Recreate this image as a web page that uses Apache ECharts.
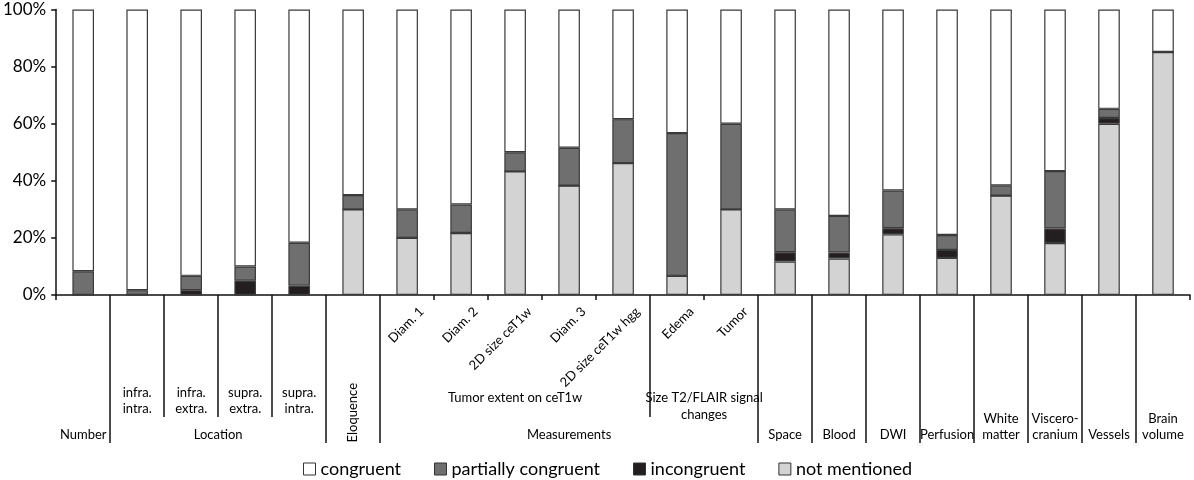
<!DOCTYPE html>
<html>
<head>
<meta charset="utf-8">
<script src="https://cdn.jsdelivr.net/npm/echarts@6/dist/echarts.min.js"></script>
<style>
  html, body { margin: 0; padding: 0; background: #fff; }
  #chart { width: 1194px; height: 480px; }
</style>
</head>
<body>
<div id="chart"></div>
<script>
// categories (lowest level of the x axis)
const categories = ['Number', 'infra. intra.', 'infra. extra.', 'supra. extra.', 'supra. intra.', 'Eloquence',
  'Diam. 1', 'Diam. 2', '2D size ceT1w', 'Diam. 3', '2D size ceT1w hgg', 'Edema', 'Tumor',
  'Space', 'Blood', 'DWI', 'Perfusion', 'White matter', 'Viscero-cranium', 'Vessels', 'Brain volume'];

// label rows under the axis
const rotatedLabels = ['', '', '', '', '', '', 'Diam. 1', 'Diam. 2', '2D size ceT1w', 'Diam. 3', '2D size ceT1w hgg',
  'Edema', 'Tumor', '', '', '', '', '', '', '', ''];
const subLabels = ['', 'infra.\nintra.', 'infra.\nextra.', 'supra.\nextra.', 'supra.\nintra.', '', '', '', '', '', '',
  '', '', '', '', '', '', '', '', '', ''];
const verticalLabels = ['', '', '', '', '', 'Eloquence', '', '', '', '', '', '', '', '', '', '', '', '', '', '', ''];
const baseLabels = ['Number', '', '', '', '', '', '', '', '', '', '', '', '',
  'Space', 'Blood', 'DWI', 'Perfusion', 'White\nmatter', 'Viscero-\ncranium', 'Vessels', 'Brain\nvolume'];

// group labels, placed at the middle of the categories they span
const groupNames = ['Location', 'Measurements'];
const groupCenters = [3, 9.5];
const subGroupNames = ['Tumor extent on ceT1w', 'Size T2/FLAIR signal\nchanges'];
const subGroupCenters = [8.5, 12];
// boundaries between categories that get separator lines
const fullDividers = [1, 5, 6, 13, 14, 15, 16, 17, 18, 19, 20];
const subDividers = [2, 3, 4, 11];

// percentages, bottom to top of each bar
const notMentioned = [0, 0, 0, 0, 0, 30.0, 20.0, 21.7, 43.3, 38.3, 46.2, 6.7, 30.0, 11.7, 12.8, 21.3, 13.0, 34.8, 18.2, 60.0, 85.1];
const incongruent = [0, 0, 1.7, 5.0, 3.3, 0, 0, 0, 0, 0, 0, 0, 0, 3.3, 2.1, 2.1, 2.8, 0, 5.1, 2.0, 0];
const partiallyCongruent = [8.3, 1.7, 5.0, 5.0, 15.0, 5.0, 10.0, 10.0, 6.7, 13.3, 15.4, 50.0, 30.0, 15.0, 12.8, 13.2, 5.2, 3.6, 20.1, 3.2, 0];
const congruent = [91.7, 98.3, 93.3, 90.0, 81.7, 65.0, 70.0, 68.3, 50.0, 48.4, 38.4, 43.3, 40.0, 70.0, 72.3, 63.4, 79.0, 61.6, 56.6, 34.8, 14.9];

const chart = echarts.init(document.getElementById('chart'));
const font = 'Lato, "Noto Sans", sans-serif';
const ink = '#000';
const axisLine = { lineStyle: { color: '#111', width: 1.5 } };

function labelAxis(rows, extra) {
  return {
    type: 'category',
    data: categories,
    position: 'bottom',
    axisLine: { show: false },
    axisTick: { show: false },
    splitLine: { show: false },
    axisLabel: Object.assign({
      interval: 0,
      fontFamily: font,
      fontSize: 13,
      color: ink,
      lineHeight: 16,
      formatter: (v, i) => rows[i]
    }, extra)
  };
}

function barSeries(name, data, color) {
  return {
    name: name,
    type: 'bar',
    stack: 'total',
    data: data,
    barWidth: '40%',
    itemStyle: { color: color, borderColor: '#3a3a3a', borderWidth: 1.2 },
    emphasis: { disabled: true }
  };
}

chart.setOption({
  backgroundColor: '#fff',
  animation: false,
  textStyle: { fontFamily: font },
  grid: { left: 55, right: 4, top: 9.5, bottom: 185 },
  legend: {
    data: ['congruent', 'partially congruent', 'incongruent', 'not mentioned'],
    left: 298,
    top: 455,
    icon: 'rect',
    itemWidth: 12,
    itemHeight: 12,
    itemGap: 33,
    itemStyle: { borderColor: '#333', borderWidth: 1 },
    textStyle: { fontFamily: font, fontSize: 18, color: ink }
  },
  yAxis: {
    type: 'value',
    min: 0,
    max: 100,
    interval: 20,
    axisLine: Object.assign({ show: true }, axisLine),
    axisTick: { show: true, length: 5, lineStyle: { color: '#111', width: 1.5 } },
    splitLine: { show: false },
    axisLabel: { formatter: '{value}%', fontFamily: font, fontSize: 17, color: ink, margin: 10 }
  },
  xAxis: [
    // data axis with rotated measurement labels
    {
      type: 'category',
      data: categories,
      position: 'bottom',
      axisLine: axisLine,
      axisTick: { show: true, interval: 0, length: 5, lineStyle: { color: '#111', width: 1.5 } },
      axisLabel: {
        interval: 0, rotate: 45, margin: 0,
        verticalAlign: 'top', padding: [14, 0, 0, 0],
        fontFamily: font, fontSize: 13, color: ink,
        formatter: (v, i) => rotatedLabels[i]
      }
    },
    labelAxis(subLabels, { margin: 90 }),
    labelAxis(verticalLabels, { rotate: 90, margin: 88 }),
    labelAxis(baseLabels, { margin: 148, verticalAlign: 'bottom' }),
    // full-height separators + top level group names
    {
      type: 'value',
      min: 0,
      max: 21,
      position: 'bottom',
      axisLine: { show: false },
      splitLine: { show: false },
      axisTick: { show: true, customValues: fullDividers, length: 148, lineStyle: { color: '#111', width: 1.5 } },
      axisLabel: {
        customValues: groupCenters,
        margin: 148,
        verticalAlign: 'bottom',
        fontFamily: font, fontSize: 13, color: ink, lineHeight: 16,
        formatter: v => groupNames[groupCenters.indexOf(v)]
      }
    },
    // shorter separators + second level group names
    {
      type: 'value',
      min: 0,
      max: 21,
      position: 'bottom',
      axisLine: { show: false },
      splitLine: { show: false },
      axisTick: { show: true, customValues: subDividers, length: 122, lineStyle: { color: '#111', width: 1.5 } },
      axisLabel: {
        customValues: subGroupCenters,
        margin: 95,
        fontFamily: font, fontSize: 13, color: ink, lineHeight: 16.5,
        formatter: v => subGroupNames[subGroupCenters.indexOf(v)]
      }
    }
  ],
  series: [
    barSeries('not mentioned', notMentioned, '#d3d3d3'),
    barSeries('incongruent', incongruent, '#231f20'),
    barSeries('partially congruent', partiallyCongruent, '#6f6f6f'),
    barSeries('congruent', congruent, '#ffffff')
  ]
});
</script>
</body>
</html>
